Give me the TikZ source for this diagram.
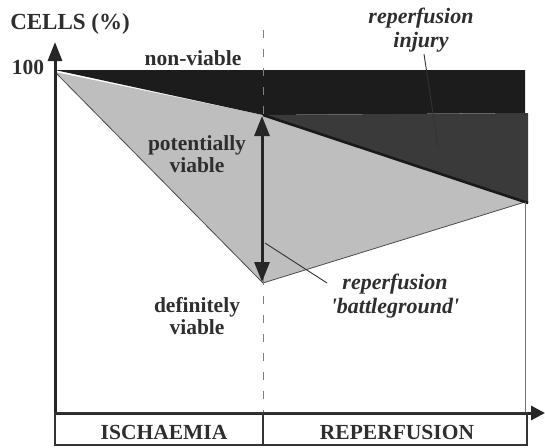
\documentclass[tikz,border=0pt]{standalone}
\usepackage{fontspec}
\setmainfont{Liberation Serif}
\usetikzlibrary{arrows.meta}
\definecolor{nonviable}{HTML}{1C1C1C}
\definecolor{injury}{HTML}{3A3A3A}
\definecolor{potential}{HTML}{BEBEBE}
\definecolor{ink}{HTML}{2E2E2E}
\tikzset{
  lbl/.style={font=\fontsize{21.5}{22}\selectfont\bfseries, text=ink, align=center, inner sep=0pt},
  ilbl/.style={font=\fontsize{22}{23.5}\selectfont\bfseries\itshape, text=ink, align=center, inner sep=0pt},
  axisline/.style={line width=3pt, draw=black!85, -{Triangle[length=19pt,width=14pt]}},
  thinframe/.style={draw=black!55, line width=0.8pt},
  pointer/.style={draw=black!80, line width=0.9pt},
  bigarrow/.style={line width=3pt, draw=black!85, {Triangle[length=20pt,width=15pt]}-{Triangle[length=20pt,width=15pt]}},
  phasebox/.style={draw=black!80, line width=1.2pt}
}
\begin{document}
\begin{tikzpicture}[x=1pt,y=-1pt]
\useasboundingbox (0,0) rectangle (545,447);
% key points
\coordinate (O) at (55,413);
\coordinate (Ytip) at (55,42);
\coordinate (Xtip) at (545,413);
\coordinate (top0) at (55,70);
\coordinate (top1) at (525,70);
\coordinate (mid) at (263,115);
\coordinate (rnv) at (525,113);
\coordinate (rinj) at (528,113);
\coordinate (rinjb) at (528,203);
\coordinate (rv) at (525,202);
\coordinate (low) at (263,283);
\coordinate (start) at (55,72);
% regions
\fill[potential] (start) -- (mid) -- (rv) -- (low) -- cycle;
\draw[draw=black!70, line width=0.8pt] (start) -- (low) -- (rv);
\fill[nonviable] (top0) -- (top1) -- (rnv) -- (mid) -- cycle;
\fill[injury] (mid) -- (rinj) -- (rinjb) -- cycle;
\draw[line width=2.6pt, draw=black!90] (mid) -- (rinjb);
% frame & dashed divider
\draw[thinframe] (rv) -- (525,413);
\draw[draw=black!50, line width=1pt, dash pattern=on 8pt off 11pt] (263,30) -- (263,413);
% axes
\draw[axisline] (O) -- (Ytip);
\draw[axisline, -{Triangle[length=14pt,width=14pt]}] (O) -- (Xtip);
% phase box
\draw[phasebox] (55,413) rectangle (527,445);
\draw[phasebox] (263,413) -- (263,445);
\node[lbl] (isch) at (164,432) {ISCHAEMIA};
\node[lbl] (repf) at (397,432) {REPERFUSION};
% double arrow
\coordinate (aTop) at (262,116);
\coordinate (aBot) at (262,282);
\draw[bigarrow] (aTop) -- (aBot);
% labels
\node[lbl, font=\fontsize{23}{24}\selectfont\bfseries] (cells) at (70,24) {CELLS (\%)};
\node[lbl] (hundred) at (28,67) {100};
\node[lbl] (nonv) at (193,58) {non-viable};
\node[lbl] (pot) at (197,154) {potentially\\viable};
\node[lbl] (def) at (197,316) {definitely\\viable};
\node[ilbl] (inj) at (421,30) {reperfusion\\injury};
\coordinate (injStart) at ([xshift=3pt,yshift=-2pt]inj.south);
\coordinate (injEnd) at (438,147);
\draw[pointer] (injStart) -- (injEnd);
\node[ilbl] (battle) at (395,296) {reperfusion\\\textquotesingle battleground\textquotesingle};
\coordinate (bgStart) at (265,243);
\coordinate (bgEnd) at (327,283);
\draw[pointer] (bgStart) -- (bgEnd);
\end{tikzpicture}
\end{document}
